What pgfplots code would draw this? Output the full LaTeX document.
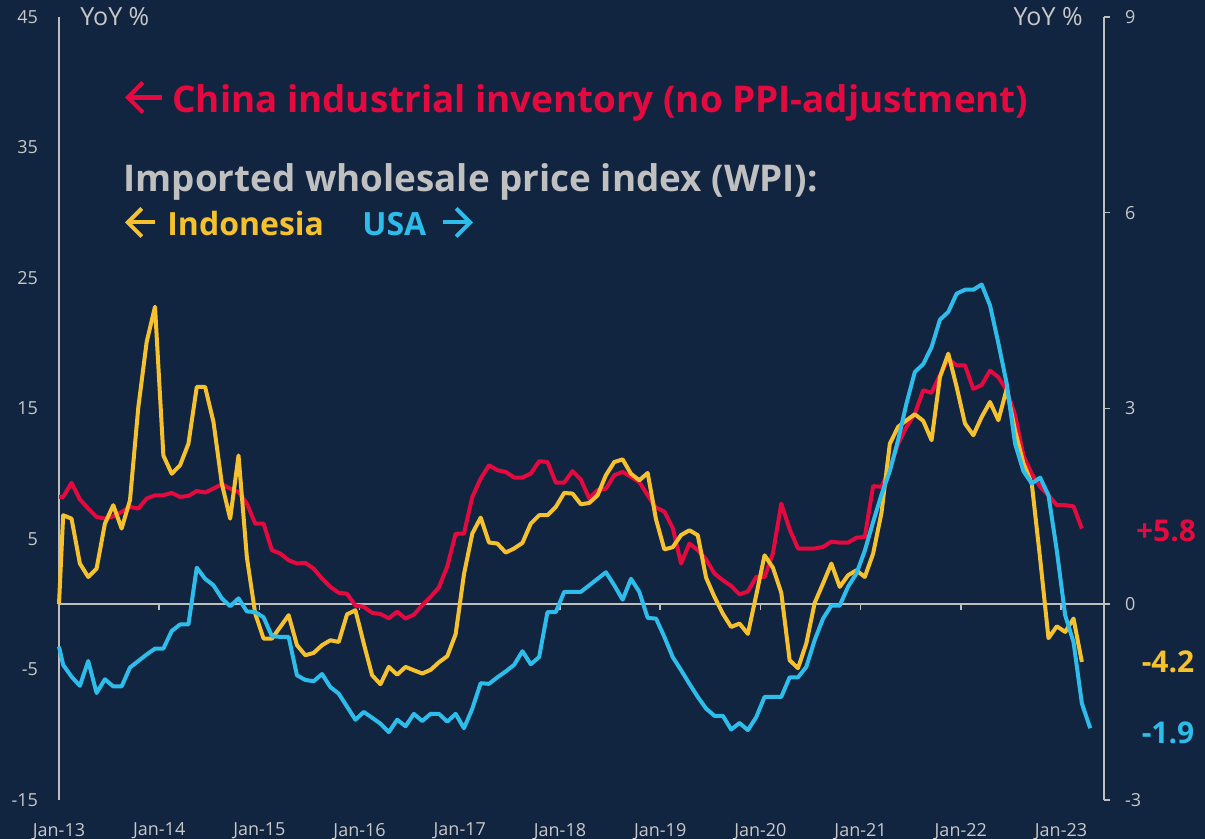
\documentclass[border=0pt]{standalone}
\usepackage{pgfplots}
\pgfplotsset{compat=1.18}
\usepackage{pgfplotstable}
\usetikzlibrary{arrows.meta}
\usepackage{fontspec}
\setmainfont{Open Sans}
\definecolor{bg}{HTML}{112440}
\definecolor{chinared}{HTML}{E4093F}
\definecolor{indo}{HTML}{F5C12E}
\definecolor{usablue}{HTML}{2EBDEB}
\definecolor{axisgray}{HTML}{BEBEBE}
\definecolor{labelgray}{HTML}{C8C8C8}
\definecolor{titlegray}{HTML}{C0C0C0}

\pgfplotstableread{
x china indo usa
0 8.22 0 -0.65
0.5 8.22 6.82 -0.93
1.5 9.3 6.56 -1.11
2.5 8.04 3.12 -1.25
3.5 7.33 2.09 -0.87
4.5 6.69 2.73 -1.36
5.5 6.56 6.18 -1.15
6.5 6.74 7.59 -1.26
7.5 7.07 5.8 -1.26
8.5 7.46 7.97 -0.97
9.5 7.33 15.1 -0.87
10.5 8.1 20.1 -0.77
11.5 8.35 22.8 -0.68
12.5 8.35 11.4 -0.68
13.5 8.53 10.0 -0.41
14.5 8.22 10.65 -0.31
15.5 8.3 12.3 -0.31
16.5 8.68 16.65 0.56
17.5 8.56 16.65 0.39
18.5 8.86 13.97 0.29
19.5 9.2 9.25 0.09
20.5 8.86 6.56 -0.03
21.5 8.6 11.4 0.09
22.5 7.71 3.6 -0.11
23.5 6.18 -0.72 -0.12
24.5 6.18 -2.63 -0.20
25.5 4.14 -2.63 -0.49
26.5 3.88 -1.74 -0.50
27.5 3.37 -0.84 -0.50
28.5 3.12 -3.14 -1.09
29.5 3.17 -3.91 -1.16
30.5 2.73 -3.73 -1.18
31.5 1.97 -3.14 -1.07
32.5 1.33 -2.76 -1.27
33.5 0.88 -2.89 -1.37
34.5 0.8 -0.77 -1.57
35.5 -0.1 -0.46 -1.77
36.5 -0.2 -3.01 -1.65
37.5 -0.66 -5.44 -1.74
38.5 -0.75 -6.13 -1.83
39.5 -1.08 -4.8 -1.96
40.5 -0.57 -5.4 -1.77
41.5 -1.1 -4.8 -1.87
42.5 -0.8 -5.06 -1.68
43.5 -0.08 -5.31 -1.79
44.5 0.56 -5.03 -1.68
45.5 1.3 -4.45 -1.68
46.5 2.9 -3.98 -1.80
47.5 5.4 -2.3 -1.68
48.5 5.42 2.3 -1.90
49.5 8.22 5.42 -1.60
50.5 9.63 6.64 -1.21
51.5 10.65 4.73 -1.22
52.5 10.27 4.65 -1.12
53.5 10.14 3.96 -1.03
54.5 9.71 4.27 -0.93
55.5 9.71 4.7 -0.72
56.5 10.01 6.18 -0.92
57.5 10.96 6.82 -0.81
58.5 10.9 6.82 -0.12
59.5 9.32 7.46 -0.12
60.5 9.32 8.53 0.19
61.5 10.2 8.48 0.19
62.5 9.55 7.66 0.19
63.5 8.1 7.76 0.29
64.5 8.74 8.35 0.39
65.5 8.86 9.89 0.49
66.5 9.89 10.9 0.29
67.5 10.14 11.1 0.07
68.5 9.76 10.0 0.39
69.5 9.37 9.5 0.19
70.5 8.35 10.06 -0.21
71.5 7.4 6.5 -0.22
72.5 7.1 4.2 -0.50
73.5 5.85 4.37 -0.81
74.5 3.12 5.3 -1.01
75.5 4.65 5.67 -1.22
76.5 4.14 5.29 -1.42
77.5 3.43 2.03 -1.60
78.5 2.35 0.56 -1.71
79.5 1.84 -0.72 -1.71
80.5 1.4 -1.74 -1.92
81.5 0.75 -1.48 -1.82
82.5 0.98 -2.27 -1.93
83.5 2.09 0.7 -1.73
84.5 2.09 3.75 -1.42
85.5 3.9 2.8 -1.42
86.5 7.71 0.88 -1.42
87.5 5.75 -4.29 -1.12
88.5 4.27 -4.9 -1.12
89.5 4.27 -3.0 -0.96
90.5 4.27 0.1 -0.55
91.5 4.39 1.59 -0.22
92.5 4.8 3.12 -0.02
93.5 4.72 1.33 -0.02
94.5 4.72 2.22 0.27
95.5 5.1 2.6 0.47
96.5 5.15 2.09 0.82
97.5 9.05 3.88 1.26
98.5 9.0 7.0 1.68
99.5 10.4 12.3 2.04
100.5 12.3 13.6 2.52
101.5 13.6 14.1 3.08
102.5 14.6 14.56 3.56
103.5 16.4 14.05 3.68
104.5 16.2 12.57 3.94
105.5 17.55 17.4 4.36
106.5 18.8 19.2 4.48
107.5 18.3 16.65 4.76
108.5 18.3 13.85 4.82
109.5 16.5 12.95 4.82
110.5 16.8 14.35 4.90
111.5 17.9 15.5 4.58
112.5 17.4 14.1 4.00
113.5 16.4 16.5 3.38
114.5 14.5 13.3 2.46
115.5 11.4 10.8 2.04
116.5 10.0 9.25 1.85
117.5 9.0 3.5 1.94
118.5 8.35 -2.6 1.67
119.5 7.59 -1.69 0.82
120.5 7.59 -2.12 -0.17
121.5 7.5 -1.1 -0.58
122.5 5.8 -4.42 -1.52
123.5 nan nan -1.90
}\datatable

\begin{document}
\begin{tikzpicture}
\fill[bg] (0,0) rectangle (602.5pt,419.5pt);
\useasboundingbox (0,0) rectangle (602.5pt,419.5pt);

\begin{axis}[
  at={(29.5pt,19.5pt)}, anchor=south west,
  scale only axis, width=522.5pt, height=391.5pt,
  xmin=0, xmax=125.15, ymin=-15, ymax=45,
  axis y line*=left, axis x line*=bottom,
  x axis line style={draw=none},
  y axis line style={draw=axisgray, line width=0.75pt, -},
  xtick={0,12,24,36,48,60,72,84,96,108,120},
  xticklabels={Jan-13,Jan-14,Jan-15,Jan-16,Jan-17,Jan-18,Jan-19,Jan-20,Jan-21,Jan-22,Jan-23},
  ytick={-15,-5,5,15,25,35,45},
  major tick length=0pt, tick style={draw=none},
  ticklabel style={text=labelgray, font=\fontsize{9}{10}\selectfont},
  /pgf/number format/assume math mode=true,
  yticklabel style={anchor=east, xshift=-7pt},
  xticklabel style={anchor=north, yshift=-8pt},
  clip=false,
]
\addplot[axisgray, line width=0.75pt] coordinates {(0,0) (125.15,0)};
\pgfplotsinvokeforeach{12,24,36,48,60,72,84,96,108,120}{
  \draw[axisgray, line width=0.75pt] (axis cs:#1,0) -- ([yshift=-2.8pt]axis cs:#1,0);
}
\addplot[chinared, line width=2pt, line join=round] table[x=x,y=china]{\datatable};
\addplot[indo, line width=2pt, line join=round] table[x=x,y=indo]{\datatable};
\end{axis}

\begin{axis}[
  at={(29.5pt,19.5pt)}, anchor=south west,
  scale only axis, width=522.5pt, height=391.5pt,
  xmin=0, xmax=125.15, ymin=-3, ymax=9,
  axis y line*=right, axis x line=none,
  ytick={-3,0,3,6,9},
  y axis line style={draw=axisgray, line width=0.75pt, -},
  ytick style={draw=axisgray, line width=0.75pt},
  tick align=outside, major tick length=3pt,
  ticklabel style={text=labelgray, font=\fontsize{9}{10}\selectfont},
  /pgf/number format/assume math mode=true,
  yticklabel style={anchor=west, xshift=4pt},
  clip=false,
]
\addplot[usablue, line width=2pt, line join=round] table[x=x,y=usa]{\datatable};
\end{axis}

% texts
\node[anchor=west, inner sep=0, text=labelgray, font=\fontsize{12.5}{14}\selectfont] at (40pt,411pt) {YoY \%};
\node[anchor=east, inner sep=0, text=labelgray, font=\fontsize{12.5}{14}\selectfont] at (541.5pt,411pt) {YoY \%};

% arrows
\draw[chinared, line width=2.1pt, -{Straight Barb[length=7.5pt, width=15pt, line width=2.1pt]}] (81pt,370.75pt) -- (62.5pt,370.75pt);
\draw[indo, line width=2pt, -{Straight Barb[length=7pt, width=14pt, line width=2pt]}] (77.5pt,308.25pt) -- (62.5pt,308.25pt);
\draw[usablue, line width=2pt, -{Straight Barb[length=7pt, width=14pt, line width=2pt]}] (221.5pt,308.25pt) -- (236.5pt,308.25pt);

\node[anchor=west, inner sep=0, text=chinared, font=\fontsize{18.4}{22}\selectfont\bfseries] at (86pt,368pt) {China industrial inventory (no PPI-adjustment)};
\node[anchor=west, inner sep=0, text=titlegray, font=\fontsize{18.4}{22}\selectfont\bfseries] at (61.5pt,328.5pt) {Imported wholesale price index (WPI):};
\node[anchor=west, inner sep=0, text=indo, font=\fontsize{16}{19}\selectfont\bfseries] at (83.5pt,307.5pt) {Indonesia};
\node[anchor=west, inner sep=0, text=usablue, font=\fontsize{16}{19}\selectfont\bfseries] at (181pt,307.5pt) {USA};

\node[inner sep=0, text=chinared, font=\fontsize{15}{18}\selectfont\bfseries] at (583pt,154pt) {+5.8};
\node[inner sep=0, text=indo, font=\fontsize{15}{18}\selectfont\bfseries] at (584pt,88.75pt) {-4.2};
\node[inner sep=0, text=usablue, font=\fontsize{15}{18}\selectfont\bfseries] at (584pt,53pt) {-1.9};
\end{tikzpicture}
\end{document}
